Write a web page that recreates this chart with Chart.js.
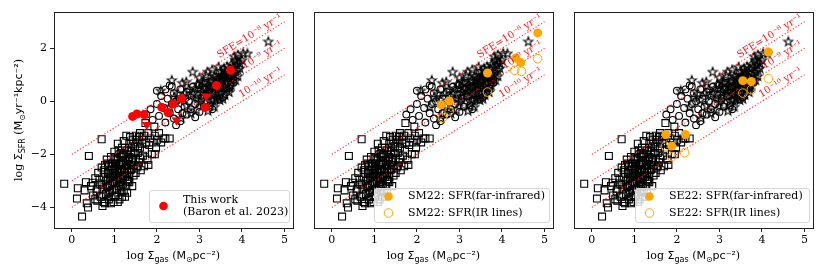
<!DOCTYPE html>
<html>
<head>
<meta charset="utf-8">
<script src="https://cdn.jsdelivr.net/npm/chart.js@4.4.0/dist/chart.umd.min.js"></script>
<style>
  body { margin: 0; background: #fff; width: 830px; height: 277px; position: relative; overflow: hidden; }
  canvas { position: absolute; top: 0; }
</style>
</head>
<body>
<canvas id="p1" width="300" height="277" style="left:0"></canvas>
<canvas id="p2" width="260" height="277" style="left:300px"></canvas>
<canvas id="p3" width="270" height="277" style="left:560px"></canvas>
<script>
// ---- data (log Sigma_gas, log Sigma_SFR) ----
const squares = [
  [-0.18,-3.11],[0.12,-3.67],[0.14,-3.28],[0.24,-4.35],[0.30,-3.36],[0.35,-3.85],[0.38,-4.01],[0.33,-3.05],
  [0.40,-2.06],[0.45,-3.20],[0.49,-3.07],[0.50,-3.55],[0.55,-2.90],[0.58,-3.40],[0.60,-3.75],[0.62,-2.70],
  [0.65,-3.10],[0.70,-1.43],[0.68,-3.60],[0.70,-2.50],[0.72,-3.30],[0.75,-2.85],[0.75,-3.80],[0.78,-2.40],
  [0.80,-3.00],[0.80,-3.50],[0.82,-2.20],[0.85,-2.70],[0.85,-3.20],[0.87,-3.70],[0.88,-2.45],[0.90,-2.90],
  [0.90,-3.40],[0.92,-2.10],[0.93,-3.60],[0.95,-2.60],[0.95,-3.10],[0.97,-2.35],[0.98,-3.80],[1.00,-2.80],
  [1.00,-3.30],[1.00,-1.90],[1.02,-2.50],[1.03,-3.55],[1.05,-2.20],[1.05,-3.00],[1.07,-2.70],[1.08,-1.60],
  [1.10,-3.20],[1.10,-2.40],[1.10,-1.85],[1.12,-3.70],[1.13,-2.90],[1.15,-2.10],[1.15,-2.60],[1.17,-3.40],
  [1.18,-1.75],[1.20,-2.30],[1.20,-2.80],[1.20,-3.10],[1.22,-1.50],[1.23,-2.00],[1.25,-2.55],[1.25,-3.60],
  [1.27,-2.25],[1.28,-1.30],[1.30,-1.85],[1.30,-2.70],[1.32,-3.00],[1.33,-2.40],[1.35,-1.60],[1.35,-2.10],
  [1.37,-1.35],[1.38,-2.60],[1.40,-1.90],[1.40,-2.30],[1.42,-3.20],[1.43,-1.45],[1.45,-2.00],[1.45,-2.80],
  [1.48,-1.70],[1.50,-2.20],[1.50,-1.30],[1.52,-2.50],[1.55,-1.55],[1.55,-1.95],[1.58,-2.30],[1.60,-1.20],
  [1.60,-1.75],[1.62,-2.60],[1.65,-1.45],[1.67,-2.05],[1.70,-1.30],[1.72,-1.85],[1.75,-1.55],[1.78,-2.20],
  [1.80,-1.20],[1.82,-1.65],[1.85,-1.40],[1.88,-2.00],[1.90,-1.55],[1.95,-1.30],[1.98,-1.75],[2.00,-1.45],
  [2.05,-1.20],[2.10,-1.55],[2.15,-1.40],[2.20,-1.40],[2.30,-1.40],[1.73,-0.82],[1.94,-0.96],
  [0.85,-2.95],[0.90,-3.15],[0.95,-2.85],[1.00,-3.05],[1.05,-2.45],[1.10,-2.65],[1.15,-2.35],[1.20,-2.05],
  [1.25,-2.85],[1.30,-2.45],[1.35,-2.85],[1.00,-2.55],[1.10,-2.95],[1.18,-2.55],[0.95,-3.35],[1.05,-3.35],
  [1.15,-3.25],[1.22,-3.40],[0.88,-3.45],[1.28,-3.20],[1.35,-3.05],[1.40,-2.55],[1.45,-2.40],[1.50,-2.70],
  [1.55,-2.45],[1.60,-2.15],[1.00,-3.60],[1.08,-3.80],[1.18,-3.60],[1.30,-3.45],[0.78,-3.85],[0.72,-3.95],
  [0.92,-3.85],[1.30,-2.95],[1.42,-2.15],[1.25,-1.75],[1.12,-2.00],[1.02,-2.15],[1.38,-1.75],[1.48,-1.95],
  [0.85,-2.35],[0.75,-2.60],[0.65,-2.95],[0.60,-3.30],[0.55,-3.70],[0.70,-3.15],[1.80,-2.40],[1.70,-2.45],
  [1.95,-2.00],[0.82,-3.25],[0.97,-2.70],[1.07,-2.85],[1.13,-3.05],[1.23,-2.65],[1.27,-2.40],[1.33,-2.20],
  [1.03,-2.35],[0.93,-2.45],[0.88,-2.75],[1.17,-1.95],[1.45,-1.60],[1.52,-1.45],[1.65,-1.60],[1.58,-1.35]
];
const circles = [
  [1.75,-0.50],[1.85,-0.30],[1.90,-0.70],[2.00,-0.10],[2.05,-0.55],[2.10,0.20],[2.17,-0.25],[2.20,-0.80],
  [2.25,0.10],[2.30,0.60],[2.30,-0.45],[2.35,-0.10],[2.40,0.30],[2.40,-0.65],[2.45,0.00],[2.50,-0.30],
  [2.55,0.45],[2.55,-0.75],[2.60,0.10],[2.65,-0.20],[2.70,0.35],[2.70,-0.50],[2.75,0.00],[2.80,-0.30],
  [2.85,0.55],[2.90,-0.10],[2.95,0.25],[3.00,-0.40],[3.05,0.10],[3.10,0.45],[3.10,-0.20],[3.15,0.70],
  [3.20,0.20],[3.25,-0.15],[3.30,0.50],[3.35,0.05],[3.40,0.80],[3.45,0.30],[3.50,0.60],[3.55,0.15],
  [3.60,0.90],[3.70,0.50],[3.75,1.00],[3.80,0.70],[2.00,0.40],[2.20,0.45],[2.60,-0.45],[2.90,-0.60],
  [3.00,0.60],[3.30,-0.30],[2.45,-0.90],[2.35,0.55]
];
const stars = [
  [2.09,0.41],[2.35,0.80],[2.50,0.30],[2.60,0.70],[2.57,-0.63],[2.69,0.74],[2.80,0.20],[2.84,1.12],
  [2.90,0.50],[2.93,-0.32],[3.00,0.90],[3.00,0.00],[3.05,0.35],[3.10,0.70],[3.10,-0.15],[3.15,1.00],
  [3.19,1.12],[3.20,0.40],[3.25,0.00],[3.25,0.75],[3.30,0.25],[3.30,1.20],[3.35,0.55],[3.35,-0.20],
  [3.40,0.95],[3.40,0.10],[3.45,0.65],[3.45,1.30],[3.50,0.35],[3.50,0.90],[3.54,1.00],[3.55,0.50],
  [3.59,1.13],[3.60,0.70],[3.60,0.25],[3.65,1.32],[3.65,0.90],[3.70,0.55],[3.70,1.10],[3.75,0.80],
  [3.75,1.40],[3.80,1.00],[3.84,1.57],[3.85,0.80],[3.90,1.76],[3.90,1.20],[3.95,1.45],[4.03,1.82],
  [3.82,1.70],[4.13,1.81],[4.62,2.26],[2.70,-0.15],[2.80,-0.45],[2.95,0.65],[3.10,0.20],[3.20,-0.35],
  [3.40,0.45],[3.55,0.10],[3.65,0.45],[3.80,1.30],[3.90,1.50],[2.65,0.30],[2.40,0.15],[2.30,-0.20],
  [2.85,0.30],[3.00,0.50],[3.15,0.50],[3.30,0.80],[3.50,1.15],[3.60,1.00],[3.70,0.90],
  [3.25,0.55],[3.35,0.35],[3.45,0.15],[3.50,0.75],[3.55,0.95],[3.60,0.55],[3.65,0.70],[3.70,0.35],
  [3.75,0.60],[3.80,0.85],[3.85,1.10],[3.90,0.95],[3.95,1.25],[3.40,0.65],[3.30,0.05],[3.20,0.60],
  [3.15,0.25],[3.05,0.75],[2.95,0.10],[3.50,0.50],[3.42,0.85],[3.58,1.25],[3.72,1.25],[3.88,1.38],
  [4.00,1.55],[3.62,0.85],[3.48,0.05],[3.35,0.95],[2.75,0.45],[2.55,0.05]
];

const thisWork = [[1.43,-0.57],[1.53,-0.48],[1.70,-0.50],[2.11,-0.22],[2.26,-0.42],[2.38,-0.10],[2.58,0.10],[3.13,-0.23],[3.40,0.60],[3.73,1.17]];
const thisWorkLimits = [[1.76,-0.88],[2.46,-0.71],[3.16,0.19]];

const sm22Fir = [[4.84,2.58],[4.32,1.63],[4.44,1.46],[3.66,1.07],[2.76,0.01],[2.57,-0.13]];
const sm22Lines = [[4.84,1.61],[4.30,1.17],[4.46,1.13],[3.66,0.35],[2.76,-0.37],[2.60,-0.63]];
const se22Fir = [[4.15,1.86],[3.55,0.78],[3.75,0.75],[1.74,-1.25],[2.20,-1.25],[1.88,-1.69]];
const se22Lines = [[4.15,0.85],[3.55,0.31],[3.75,0.44],[1.73,-1.69],[1.88,-2.09],[2.18,-1.94]];

// SFE = 1e-8, 1e-9, 1e-10 yr^-1 lines
const sfeX = [0, 5];
const sfe8Y = [-2, 3];
const sfe9Y = [-3, 2];
const sfe10Y = [-4, 1];
const sfeLabels = ['SFE=10⁻⁸ yr⁻¹', '10⁻⁹ yr⁻¹', '10⁻¹⁰ yr⁻¹'];

const xTicks = [0, 1, 2, 3, 4, 5];
const yTicks = [-4, -2, 0, 2];

const SERIF = 'DejaVu Serif';
const SANS = 'DejaVu Sans';
const ORANGE = '#ffa500';

const pts = arr => arr.map(p => ({ x: p[0], y: p[1] }));

// open star marker
function makeStar() {
  const c = document.createElement('canvas');
  c.width = 12; c.height = 12;
  const g = c.getContext('2d');
  g.beginPath();
  for (let i = 0; i < 10; i++) {
    const r = i % 2 ? 2.0 : 4.8;
    const a = -Math.PI / 2 + i * Math.PI / 5;
    const px = 6 + r * Math.cos(a), py = 6.4 + r * Math.sin(a);
    if (i) g.lineTo(px, py); else g.moveTo(px, py);
  }
  g.closePath();
  g.strokeStyle = '#000';
  g.lineWidth = 1.1;
  g.lineJoin = 'miter';
  g.stroke();
  return c;
}
const starImg = makeStar();

function sfeLine(ys) {
  return {
    type: 'line', data: sfeX.map((x, i) => ({ x: x, y: ys[i] })),
    borderColor: 'rgba(255,0,0,0.85)', borderWidth: 1.1, borderDash: [1.2, 2],
    pointRadius: 0, fill: false
  };
}

function background() {
  return [
    sfeLine(sfe8Y), sfeLine(sfe9Y), sfeLine(sfe10Y),
    { data: pts(stars), pointStyle: starImg, pointRadius: 5 },
    { data: pts(circles), pointStyle: 'circle', pointRadius: 3.4, borderColor: '#000', backgroundColor: 'rgba(0,0,0,0)', borderWidth: 1.1 },
    { data: pts(squares), pointStyle: 'rect', pointRadius: 4.9, borderColor: '#000', backgroundColor: 'rgba(0,0,0,0)', borderWidth: 1.1 }
  ];
}

// text made of runs in different fonts / offsets
function drawRuns(ctx, runs, cx, y) {
  let total = 0;
  runs.forEach(r => { ctx.font = r.f; r.w = ctx.measureText(r.t).width; total += r.w; });
  let x = cx - total / 2;
  ctx.textAlign = 'left';
  ctx.textBaseline = 'alphabetic';
  runs.forEach(r => { ctx.font = r.f; ctx.fillText(r.t, x, y + (r.dy || 0)); x += r.w; });
}

const overlay = {
  id: 'overlay',
  afterDraw(chart, args, opts) {
    const ctx = chart.ctx, a = chart.chartArea;
    const xs = chart.scales.x, ys = chart.scales.y;
    ctx.save();
    // frame
    ctx.strokeStyle = '#222';
    ctx.lineWidth = 1;
    ctx.strokeRect(Math.round(a.left) + 0.5, Math.round(a.top) + 0.5, Math.round(a.right - a.left), Math.round(a.bottom - a.top));

    // SFE labels
    const lines = [sfe8Y, sfe9Y, sfe10Y];
    ctx.fillStyle = 'rgba(255,0,0,0.9)';
    ctx.font = '10px ' + SERIF;
    lines.forEach((ly, i) => {
      const x0 = xs.getPixelForValue(sfeX[0]), y0 = ys.getPixelForValue(ly[0]);
      const x1 = xs.getPixelForValue(sfeX[1]), y1 = ys.getPixelForValue(ly[1]);
      const ang = Math.atan2(y1 - y0, x1 - x0);
      ctx.save();
      ctx.translate(x1, y1);
      ctx.rotate(ang);
      ctx.textAlign = 'right';
      ctx.textBaseline = 'alphabetic';
      ctx.fillText(sfeLabels[i], 0, -3.5);
      ctx.restore();
    });

    // x title
    ctx.fillStyle = '#000';
    drawRuns(ctx, [
      { t: 'log ', f: '11px ' + SERIF },
      { t: 'Σ', f: '11px ' + SANS },
      { t: 'gas', f: '8px ' + SANS, dy: 2.5 },
      { t: ' (', f: '11px ' + SERIF },
      { t: 'M', f: '11px ' + SANS },
      { t: '⊙', f: '8px ' + SANS, dy: 2.5 },
      { t: 'pc⁻²', f: '11px ' + SANS },
      { t: ')', f: '11px ' + SERIF }
    ], (a.left + a.right) / 2, 259);

    // y title
    if (opts.ytitle) {
      ctx.save();
      ctx.translate(22, (a.top + a.bottom) / 2);
      ctx.rotate(-Math.PI / 2);
      drawRuns(ctx, [
        { t: 'log ', f: '11px ' + SERIF },
        { t: 'Σ', f: '11px ' + SANS },
        { t: 'SFR', f: '8px ' + SANS, dy: 2.5 },
        { t: ' (', f: '11px ' + SERIF },
        { t: 'M', f: '11px ' + SANS },
        { t: '⊙', f: '8px ' + SANS, dy: 2.5 },
        { t: 'yr⁻¹kpc⁻²', f: '11px ' + SANS },
        { t: ')', f: '11px ' + SERIF }
      ], 0, 0);
      ctx.restore();
    }

    // legend
    const L = opts.legend;
    const bx = a.right - 4 - L.w, by = a.bottom - 6 - L.h;
    ctx.beginPath();
    ctx.roundRect(bx + 0.5, by + 0.5, L.w, L.h, 2.5);
    ctx.fillStyle = 'rgba(255,255,255,0.8)';
    ctx.fill();
    ctx.strokeStyle = '#d6d6d6';
    ctx.stroke();
    ctx.font = '11px ' + SERIF;
    ctx.textAlign = 'left';
    ctx.textBaseline = 'middle';
    L.items.forEach(it => {
      const my = by + it.my;
      ctx.beginPath();
      ctx.arc(bx + 14.5, my, 4.3, 0, Math.PI * 2);
      if (it.filled) { ctx.fillStyle = it.color; ctx.fill(); }
      else { ctx.strokeStyle = it.color; ctx.lineWidth = 1; ctx.stroke(); }
      ctx.fillStyle = '#000';
      it.lines.forEach((t, k) => ctx.fillText(t, bx + 34, my - (it.lines.length - 1) * 5.8 + k * 11.6));
    });
    ctx.restore();
  }
};

function makeChart(id, fg, opts) {
  const showY = !!opts.ytitle;
  new Chart(document.getElementById(id), {
    type: 'scatter',
    data: { datasets: fg.concat(background()) },
    plugins: [overlay],
    options: {
      responsive: false,
      animation: false,
      events: [],
      layout: { padding: { left: showY ? 0 : 14, right: opts.padR, top: 12, bottom: 0 } },
      plugins: { legend: { display: false }, tooltip: { enabled: false }, overlay: opts },
      scales: {
        x: {
          min: -0.42, max: 5.2,
          afterBuildTicks: s => { s.ticks = xTicks.map(v => ({ value: v })); },
          afterFit: s => { s.height = 49; },
          grid: { display: true, drawOnChartArea: false, drawTicks: true, tickLength: 4, color: '#222' },
          border: { display: false },
          ticks: { color: '#000', font: { family: SERIF, size: 11 }, padding: 2, maxRotation: 0,
                   callback: v => String(v).replace('-', '−') }
        },
        y: {
          display: showY,
          min: -4.78, max: 3.37,
          afterBuildTicks: s => { s.ticks = yTicks.map(v => ({ value: v })); },
          afterFit: s => { s.width = showY ? 54 : 0; },
          grid: { display: true, drawOnChartArea: false, drawTicks: true, tickLength: 4, color: '#222' },
          border: { display: false },
          ticks: { color: '#000', font: { family: SERIF, size: 11 }, padding: 3,
                   callback: v => String(v).replace('-', '−') }
        }
      }
    }
  });
}

makeChart('p1', [
  { data: pts(thisWork), pointStyle: 'circle', pointRadius: 4.5, backgroundColor: 'red', borderColor: 'red', borderWidth: 0 },
  { data: pts(thisWorkLimits), pointStyle: 'triangle', rotation: 180, pointRadius: 5.5, backgroundColor: 'red', borderColor: 'red', borderWidth: 0 }
], {
  ytitle: true, padR: 7,
  legend: { w: 140, h: 32, items: [{ filled: true, color: 'red', my: 16, lines: ['This work', '(Baron et al. 2023)'] }] }
});

makeChart('p2', [
  { data: pts(sm22Fir), pointStyle: 'circle', pointRadius: 4.5, backgroundColor: ORANGE, borderColor: ORANGE, borderWidth: 0 },
  { data: pts(sm22Lines), pointStyle: 'circle', pointRadius: 4.3, backgroundColor: 'rgba(0,0,0,0)', borderColor: ORANGE, borderWidth: 1 }
], {
  ytitle: false, padR: 7,
  legend: { w: 175, h: 34, items: [
    { filled: true, color: ORANGE, my: 8.5, lines: ['SM22: SFR(far-infrared)'] },
    { filled: false, color: ORANGE, my: 25, lines: ['SM22: SFR(IR lines)'] }
  ] }
});

makeChart('p3', [
  { data: pts(se22Fir), pointStyle: 'circle', pointRadius: 4.5, backgroundColor: ORANGE, borderColor: ORANGE, borderWidth: 0 },
  { data: pts(se22Lines), pointStyle: 'circle', pointRadius: 4.3, backgroundColor: 'rgba(0,0,0,0)', borderColor: ORANGE, borderWidth: 1 }
], {
  ytitle: false, padR: 17,
  legend: { w: 174, h: 34, items: [
    { filled: true, color: ORANGE, my: 8.5, lines: ['SE22: SFR(far-infrared)'] },
    { filled: false, color: ORANGE, my: 25, lines: ['SE22: SFR(IR lines)'] }
  ] }
});
</script>
</body>
</html>
